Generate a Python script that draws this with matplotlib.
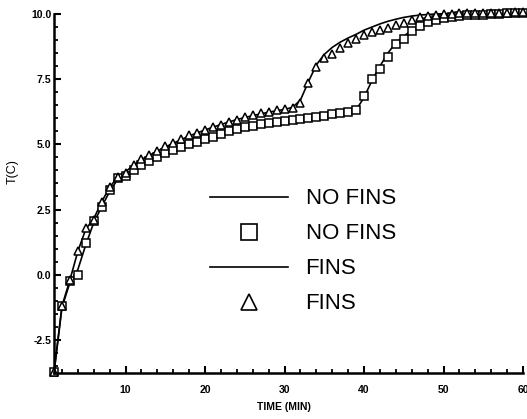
import numpy as np
import matplotlib
matplotlib.use("Agg")
import matplotlib.pyplot as plt
from matplotlib.lines import Line2D
from matplotlib.ticker import MultipleLocator, FixedLocator

plt.rcParams['font.family'] = ['Liberation Sans', 'DejaVu Sans']
plt.rcParams['axes.unicode_minus'] = False

# time in minutes
time_min = list(range(1, 61))

# measured points (markers)
no_fins_meas = [-3.75, -1.2, -0.25, 0.0, 1.2, 2.05, 2.6, 3.25, 3.7, 3.8,
                4.0, 4.2, 4.35, 4.5, 4.65, 4.8, 4.9, 5.0, 5.1, 5.2,
                5.3, 5.4, 5.5, 5.58, 5.65, 5.72, 5.78, 5.83, 5.87, 5.9,
                5.95, 5.98, 6.02, 6.05, 6.1, 6.15, 6.2, 6.25, 6.32, 6.85,
                7.5, 7.9, 8.35, 8.85, 9.05, 9.35, 9.55, 9.68, 9.78, 9.85,
                9.9, 9.93, 9.95, 9.97, 9.98, 10.0, 10.0, 10.02, 10.03, 10.05]
fins_meas = [-3.75, -1.2, -0.2, 0.9, 1.8, 2.1, 2.8, 3.35, 3.75, 3.9,
             4.2, 4.45, 4.6, 4.75, 4.95, 5.05, 5.2, 5.35, 5.45, 5.55,
             5.65, 5.75, 5.85, 5.95, 6.05, 6.12, 6.2, 6.25, 6.3, 6.35,
             6.4, 6.6, 7.35, 7.95, 8.3, 8.45, 8.7, 8.9, 9.05, 9.18,
             9.3, 9.4, 9.48, 9.57, 9.67, 9.78, 9.87, 9.93, 9.97, 10.0,
             10.0, 10.02, 10.03, 10.03, 10.04, 10.05, 10.05, 10.05, 10.06, 10.06]

# computed curves (lines)
no_fins_calc = [-3.75, -1.25, -0.3, 0.2, 1.15, 2.0, 2.6, 3.2, 3.65, 3.85,
                4.05, 4.25, 4.4, 4.55, 4.68, 4.8, 4.92, 5.02, 5.12, 5.22,
                5.32, 5.42, 5.5, 5.58, 5.65, 5.72, 5.78, 5.83, 5.88, 5.92,
                5.96, 6.0, 6.04, 6.08, 6.12, 6.16, 6.2, 6.25, 6.32, 6.8,
                7.45, 8.0, 8.5, 8.9, 9.15, 9.38, 9.55, 9.68, 9.78, 9.85,
                9.9, 9.93, 9.95, 9.97, 9.99, 10.0, 10.01, 10.02, 10.03, 10.04]
fins_calc = [-3.75, -1.2, -0.2, 0.9, 1.75, 2.15, 2.8, 3.35, 3.75, 3.95,
             4.2, 4.42, 4.58, 4.74, 4.9, 5.04, 5.18, 5.32, 5.44, 5.55,
             5.66, 5.76, 5.86, 5.95, 6.03, 6.1, 6.17, 6.23, 6.29, 6.34,
             6.42, 6.7, 7.4, 8.05, 8.45, 8.72, 8.92, 9.08, 9.22, 9.38,
             9.5, 9.62, 9.72, 9.8, 9.87, 9.92, 9.96, 9.98, 10.0, 10.01,
             10.02, 10.03, 10.03, 10.04, 10.04, 10.05, 10.05, 10.06, 10.06, 10.07]

y_ticks = [-2.5, 0.0, 2.5, 5.0, 7.5, 10.0]
y_ticklabels = ['-2.5', '0.0', '2.5', '5.0', '7.5', '10.0']
x_ticks = [10, 20, 30, 40, 50, 60]
legend_labels = ['NO FINS', 'NO FINS', 'FINS', 'FINS']

fig = plt.figure(figsize=(5.27, 4.19), dpi=100)
ax = fig.add_axes([0.1025, 0.1098, 0.890, 0.8568])

ax.plot(time_min, no_fins_calc, color='black', lw=1.2, clip_on=False)
ax.plot(time_min, fins_calc, color='black', lw=1.2, clip_on=False)
ax.plot(time_min, no_fins_meas, ls='none', marker='s', ms=5.5, mfc='white',
        mec='black', mew=1.1, clip_on=False)
ax.plot(time_min, fins_meas, ls='none', marker='^', ms=6, mfc='white',
        mec='black', mew=1.1, clip_on=False)

ax.set_xlim(1, 60)
ax.set_ylim(-3.77, 10.0)

for s in ['top', 'right']:
    ax.spines[s].set_visible(False)
for s in ['left', 'bottom']:
    ax.spines[s].set_linewidth(1.8)

ax.xaxis.set_major_locator(FixedLocator(x_ticks))
ax.xaxis.set_minor_locator(MultipleLocator(2))
ax.yaxis.set_major_locator(FixedLocator(y_ticks))
ax.yaxis.set_minor_locator(MultipleLocator(0.5))
ax.set_yticklabels(y_ticklabels)
ax.set_xticklabels([str(v) for v in x_ticks])

ax.tick_params(which='major', direction='in', length=5, width=1.5)
ax.tick_params(which='minor', direction='in', length=3, width=1.3)
ax.tick_params(axis='x', which='major', pad=9, labelsize=7.5)
ax.tick_params(axis='y', which='major', pad=2, labelsize=7.5)
for lab in ax.get_xticklabels() + ax.get_yticklabels():
    lab.set_fontweight('bold')

ax.set_xlabel('TIME (MIN)', fontsize=7.5, fontweight='bold')
ax.xaxis.set_label_coords(0.49, -0.08)
ax.set_ylabel('T(C)', fontsize=9)
ax.yaxis.set_label_coords(-0.075, 0.56)

handles = [Line2D([], [], color='black', lw=1.2),
           Line2D([], [], ls='none', marker='s', ms=11, mfc='white', mec='black', mew=1.2),
           Line2D([], [], color='black', lw=1.2),
           Line2D([], [], ls='none', marker='^', ms=12, mfc='white', mec='black', mew=1.2)]
fig.legend(handles, legend_labels, loc='center left',
           bbox_to_anchor=(0.3985, 0.400), bbox_transform=fig.transFigure,
           frameon=False, fontsize=16, handlelength=3.5, handletextpad=0.8,
           labelspacing=0.63, borderpad=0, borderaxespad=0)

fig.savefig('out.png', dpi=100)
